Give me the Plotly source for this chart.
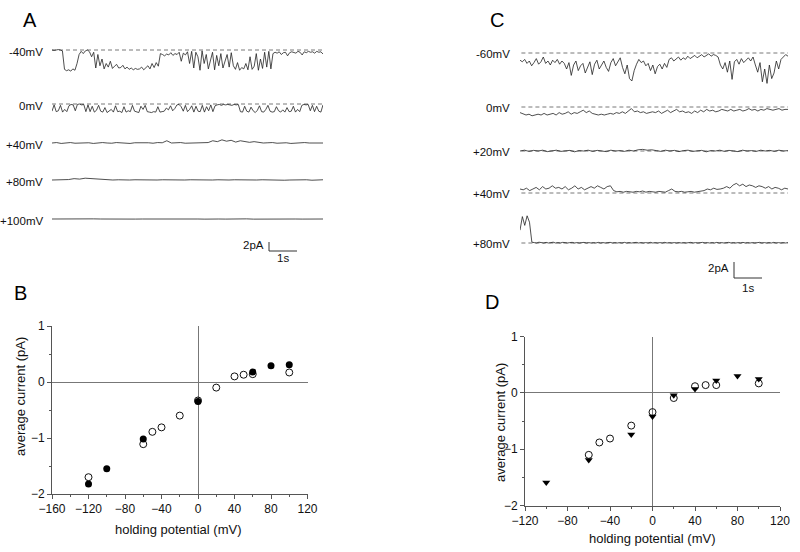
import numpy as np
import plotly.graph_objects as go

W, H = 800, 552

# ---------------- DATA ----------------
# Panel A single-channel traces (pA, baseline = 0, inward = negative)
A_labels = ["-40mV", "0mV", "+40mV", "+80mV", "+100mV"]
A_m40 = [0, -0.1, 0, 0.1, 0, -0.2,
         -4.3, -4.6, -4.4, -4.7, -4.2, -4.5,
         -3.0, -1.0, -0.3, -0.8, -0.2, 0, -0.4, -1.5, -0.5,
         -4.0, -1.0, -3.5, -2.0, -4.2, -3.0, -3.8, -2.5, -4.1, -3.6, -3.2, -4.0, -3.9, -3.4, -4.2, -3.8,
         -4.3, -4.0, -4.4, -4.1, -4.3, -4.2, -3.8, -4.4, -4.0, -3.5, -4.2, -3.0, -3.9, -2.8, -3.6,
         -0.8, -1.0, -1.3, -0.9, -1.1, -0.6, -1.2, -0.8, -1.0, -0.5, -2.5, -0.7, -1.1, -0.4, -3.0,
         -0.3, -4.0, -0.5, -1.5, -4.5, -0.2, -3.0, -1.0, -4.2, -2.0, -0.5, -4.4, -1.2, -3.5, -0.8, -4.0,
         -2.5, -1.0, -3.8, -0.6,
         -3.5, -4.3, -2.8, -4.5, -3.9, -4.2, -3.0, -4.4, -1.5, -4.3, -3.6, -0.8, -4.5, -2.0, -4.1, -0.5,
         -3.8, -0.3, -4.2,
         -0.8, -0.5, -0.7, -0.4, -1.0, -0.6, -0.5, -1.3, -0.6, -0.4, -0.5, -0.7, -0.3, -0.5, -1.1, -0.4,
         -0.6, -0.3, -0.5, -0.4, -0.7, -0.3, -0.5, -0.4, -0.9]
A_0 = [-1.6, -0.2, -1.7, -1.5, -0.3, -1.8, -1.2, -1.7, -0.4,
       -0.1, -0.2, -1.5, -0.1, 0, -0.2, -0.1, -1.7, -0.2,
       -1.7, -0.5, -1.8, -1.4, -0.3, -1.6, -1.8, -0.8, -1.9, -1.5, -1.2, -1.8, -0.4, -1.7, -1.6, -1.9,
       -0.6, -1.8, -1.5, -1.7, -0.3, -1.6,
       -1.8, -1.9, -0.5, -1.2, -0.3, -1.7,
       -1.8, -1.9, -1.7, -1.8, -0.6, -1.8, -1.7, -1.6, -0.9, -1.3, -0.4, -1.5, -1.0, -0.2,
       -0.1, -0.6, -1.6, -0.3, -1.7, -1.2, -0.4, -1.8, -0.5, -1.6, -1.7, -0.3, -1.8, -0.6, -1.5, -0.2,
       -1.7, -0.4,
       -0.2, -0.1, -0.3, -0.1, -0.2, -0.1, -0.2, -0.3, -0.1, -0.2, -0.1,
       -1.7, -1.8, -0.5, -1.6, -1.8, -0.7, -1.5, -1.9, -1.4, -0.4, -1.7, -1.8, -1.2, -0.3, -1.6, -1.8,
       -1.7, -0.6, -1.5, -1.8, -1.3, -1.8, -0.8, -1.7, -1.6, -0.5, -1.8, -1.2, -1.7, -0.3,
       -0.1, -0.2, -0.1,
       -1.5, -0.3, -1.7, -0.5, -1.6, -1.8, -0.2]
A_40 = [0, 0.1, -0.1, 0.05, 0.1, -0.05, 0, 0.1, 0.05, -0.1, 0, 0.1, 0, -0.05, 0.1, 0.05, 0, -0.1,
        0.05, 0.1, 0, 0.05, -0.05, 0.1, 0.05, 0.5, 0, 0.05, 0.1, -0.05, 0, 0.1, 0.05, 0.2, 0.1, 0.5,
        0.3, 0.7, 0.4, 0.6, 0.2, 0.5, 0.3, 0.15, 0.3, 0.1, 0, 0.05, 0.1, -0.05, 0, 0.05, -0.1, 0,
        0.05, 0.1, 0, -0.05, 0.05, 0]
A_80 = [0, 0.05, -0.05, 0.1, 0.3, 0.2, 0.4, 0.3, 0.15, 0.05, 0.1, 0, 0.05, -0.05, 0, 0.05, 0, 0.05,
        -0.05, 0, 0.05, 0, -0.05, 0.05, 0, 0.05, 0, -0.05, 0.05, 0, 0.05, -0.05, 0, 0.05, 0, 0.05,
        -0.05, 0, 0.05, 0, 0.05, 0, -0.05, 0, 0.05, 0, 0.05, -0.05, 0, 0.05]
A_100 = [0, 0.03, -0.03, 0.02, 0, -0.02, 0.03, 0, -0.03, 0.02, 0, 0.03, -0.02, 0, 0.02, -0.03, 0,
         0.03, 0, -0.02, 0.02, 0, -0.03, 0.03, 0, -0.02, 0.02, 0, 0.03, -0.03, 0, 0.02, -0.02, 0,
         0.03, 0, -0.02, 0.02, 0, 0]

# Panel C single-channel traces
C_labels = ["-60mV", "0mV", "+20mV", "+40mV", "+80mV"]
C_m60 = [-0.9, -1.1, -0.8, -1.3, -1.0, -1.6, -1.2, -0.7, -1.4, -1.1, -0.5, -1.3, -1.0, -1.5, -0.9,
         -1.2, -0.8, -1.4, -1.0, -1.3,
         -2.0, -1.2, -2.8, -1.5, -1.0, -2.2, -1.6, -1.3, -2.5, -1.8, -1.1, -2.7, -1.4, -0.9, -2.0,
         -1.5, -1.0, -1.8, -2.3, -1.2, -0.7, -1.6,
         -1.0, -0.6, -1.8, -2.6, -1.5, -3.2, -3.5, -2.2, -1.4, -0.8,
         -1.2, -1.0, -1.6, -1.3, -2.2, -1.5, -2.6, -1.7, -1.4, -2.0, -1.3, -1.8,
         -0.8, -0.6, -1.0, -0.7, -0.5, -0.9, -0.6, -0.8, -0.4, -0.7, -0.5, -0.3, -0.6, -0.4, -0.2,
         -0.5, -0.3, -0.1, -0.4, -0.2, -0.3,
         -0.5, -1.5, -2.0, -1.2, -2.4, -1.0, -3.3, -1.1, -0.8, -1.4, -0.7, -1.2, -0.9, -0.6, -1.0, -0.5,
         -1.5, -2.4, -1.2, -3.6, -2.0, -3.8, -1.5, -3.2, -2.5, -1.0, -2.0, -0.8, -0.5, -0.2, -0.4]
C_0 = [-0.7, -0.9, -1.0, -0.9, -1.1, -1.0, -0.9, -1.0, -0.8, -1.0, -0.9, -0.8, -1.0, -0.7, -0.9,
       -0.8, -0.6, -0.9, -0.7, -0.8, -0.6, -0.4, -0.7, -0.5, -0.8, -0.9, -1.0, -0.9, -1.0, -0.9,
       -0.8, -0.9, -0.7, -0.8, -0.6, -0.8, -0.5, -0.2, -0.6, -0.5, -0.7, -0.6, -0.8, -0.7, -0.6,
       -0.7, -0.5, -0.8, -0.6, -0.4, -0.7, -0.5, -0.3, -0.6, -0.5, -0.7, -0.6, -0.8, -0.5, -0.7,
       -0.4, -0.6, -0.3, -0.5, -0.4, -0.6, -0.5, -0.3, -0.4, -0.5, -0.3, -0.5, -0.4, -0.3, -0.5,
       -0.4, -0.2, -0.4, -0.3, -0.5, -0.3, -0.4, -0.2, -0.3, -0.4, -0.3, -0.2, -0.4, -0.3, -0.3]
C_20 = [0, 0.1, -0.05, 0.08, 0, 0.1, -0.08, 0.05, 0.1, -0.05, 0, 0.08, -0.1, 0.05, 0, 0.1, -0.05,
        0.08, 0, -0.08, 0.1, 0, 0.05, -0.05, 0.1, 0, 0.15, 0.2, 0.1, 0.15, 0.05, -0.05, 0.1, 0,
        0.08, -0.08, 0.05, 0.1, -0.05, 0, 0.08, -0.1, 0.05, 0, 0.1, -0.05, 0.08, 0, -0.08, 0.1,
        0, 0.05, -0.05, 0.1, 0, 0.08, -0.05, 0.1, 0, 0.05]
C_40 = [0.5, 0.4, 0.6, 0.3, 0.5, 0.7, 0.4, 0.8, 0.5, 0.6, 0.9, 0.6, 0.7, 0.5, 0.8, 0.4, 0.6, 0.9,
        0.5, 0.7, 0.4, 0.6, 0.8, 0.6, 0.9, 0.7, 0.5, 0.8, 0.9, 0.3,
        0.15, 0.2, 0.1, 0.2, 0.15, 0.1, 0.2, 0.15, 0.25, 0.1, 0.2, 0.15, 0.1, 0.2, 0.15, 0.1, 0.3,
        0.5, 0.2, 0.15, 0.2, 0.1, 0.15, 0.2, 0.1, 0.15, 0.2, 0.3, 0.5, 0.4, 0.6, 0.45, 0.5, 0.6,
        0.8, 0.6, 1.0, 1.2, 0.9, 1.1, 0.8, 1.0, 0.9, 0.7, 0.9, 0.8, 0.6, 0.8, 0.5, 0.7, 0.6, 0.4,
        0.6, 0.5]
C_80 = [1.6, 3.3, 2.2, 3.4, 2.6, 0.1, 0.05, 0, 0.1, 0.05, 0, 0.08, 0, 0.05, 0.1, 0, 0.05, 0, 0.08,
        0.05, 0, 0.05, 0.08, 0, 0.05, 0, 0.05, 0.08, 0, 0.05, 0, 0.05, 0, 0.08, 0, 0.05, 0, 0.05,
        0.08, 0, 0.05, 0, 0.05, 0, 0.08, 0, 0.05, 0, 0.05, 0.08, 0, 0.05, 0, 0.05, 0, 0.08, 0,
        0.05, 0, 0.05, 0, 0.08, 0, 0.05, 0, 0.05, 0, 0.05, 0, 0.05, 0, 0.05, 0.08, 0, 0.05, 0,
        0.05, 0.08, 0, 0.05, 0, 0.05, 0, 0.08, 0, 0.05, 0, 0.05, 0.08, 0, 0.05, 0, 0.05, 0, 0.08,
        0, 0.05, 0, 0.05, 0, 0.05, 0.08, 0, 0.05, 0, 0.05, 0, 0.08, 0, 0.05, 0, 0.05, 0, 0.05]

# Panel B: I-V relation (holding potential mV, average current pA)
B_open_x = [-120, -60, -50, -40, -20, 0, 20, 40, 50, 60, 100]
B_open_y = [-1.70, -1.11, -0.89, -0.81, -0.60, -0.33, -0.10, 0.10, 0.13, 0.14, 0.17]
B_fill_x = [-120, -100, -60, 0, 60, 80, 100]
B_fill_y = [-1.82, -1.55, -1.02, -0.35, 0.18, 0.29, 0.31]

# Panel D
D_open_x = [-60, -50, -40, -20, 0, 20, 40, 50, 60, 100]
D_open_y = [-1.10, -0.88, -0.81, -0.58, -0.34, -0.09, 0.12, 0.14, 0.14, 0.17]
D_tri_x = [-100, -60, -20, 0, 20, 40, 60, 80, 100]
D_tri_y = [-1.59, -1.19, -0.74, -0.42, -0.04, 0.07, 0.22, 0.30, 0.25]

B_xticks = [-160, -120, -80, -40, 0, 40, 80, 120]
D_xticks = [-120, -80, -40, 0, 40, 80, 120]
yticks = [-2, -1, 0, 1]

# ---------------- LAYOUT HELPERS ----------------
def px(x):
    return x / W


def py(y):
    return 1 - y / H


FONT = "Liberation Sans, Arial, Helvetica, sans-serif"
TRACE_COL = "#222222"
LAB = 11.5

fig = go.Figure()

# ---- Panel A traces ----
A_X0, A_X1, A_Y0, A_Y1 = 52, 323, 30, 265
A_PXS, A_PXPA = 28.0, 4.5
A_T = (A_X1 - A_X0) / A_PXS
A_base = [50, 104, 143, 180, 219]
A_dashed = [True, True, False, False, False]
A_series = [A_m40, A_0, A_40, A_80, A_100]


def a_off(b):
    return -(b - A_Y0) / A_PXPA


for vals, b, dsh, lab in zip(A_series, A_base, A_dashed, A_labels):
    off = a_off(b)
    if dsh:
        fig.add_trace(go.Scatter(x=[0, A_T], y=[off, off], mode="lines", xaxis="x", yaxis="y",
                                 line=dict(color="#555", width=0.8, dash="4px,3px"),
                                 hoverinfo="skip", showlegend=False))
    t = np.linspace(0, A_T, len(vals))
    fig.add_trace(go.Scatter(x=t, y=np.array(vals) + off, mode="lines", xaxis="x", yaxis="y",
                             line=dict(color=TRACE_COL, width=0.8), showlegend=False, name=lab))
    fig.add_annotation(x=px(45), y=py(b + 2), xref="paper", yref="paper", text=lab,
                       showarrow=False, xanchor="right", yanchor="middle",
                       font=dict(family=FONT, size=LAB, color="#111"))

# scale bar A (2 pA, 1 s)
sbx = (269 - A_X0) / A_PXS
sby = a_off(251)
fig.add_trace(go.Scatter(x=[sbx, sbx, sbx + 1], y=[sby + 2, sby, sby], mode="lines",
                         xaxis="x", yaxis="y", line=dict(color="#333", width=1),
                         hoverinfo="skip", showlegend=False))
fig.add_annotation(x=px(266), y=py(245), xref="paper", yref="paper", text="2pA",
                   showarrow=False, xanchor="right", font=dict(family=FONT, size=LAB, color="#111"))
fig.add_annotation(x=px(283), y=py(258), xref="paper", yref="paper", text="1s",
                   showarrow=False, xanchor="center", font=dict(family=FONT, size=LAB, color="#111"))

# ---- Panel C traces ----
C_X0, C_X1, C_Y0, C_Y1 = 520, 788, 30, 300
C_PXS, C_PXPA = 28.0, 8.0
C_T = (C_X1 - C_X0) / C_PXS
C_base = [53, 107, 151, 193, 243]
C_series = [C_m60, C_0, C_20, C_40, C_80]


def c_off(b):
    return -(b - C_Y0) / C_PXPA


for vals, b, lab in zip(C_series, C_base, C_labels):
    off = c_off(b)
    fig.add_trace(go.Scatter(x=[-0.2, C_T], y=[off, off], mode="lines", xaxis="x2", yaxis="y2",
                             line=dict(color="#555", width=0.8, dash="4px,3px"),
                             hoverinfo="skip", showlegend=False))
    t = np.linspace(0, C_T, len(vals))
    fig.add_trace(go.Scatter(x=t, y=np.array(vals) + off, mode="lines", xaxis="x2", yaxis="y2",
                             line=dict(color=TRACE_COL, width=0.8), showlegend=False, name=lab))
    fig.add_annotation(x=px(512), y=py(b + 1), xref="paper", yref="paper", text=lab,
                       showarrow=False, xanchor="right", yanchor="middle",
                       font=dict(family=FONT, size=LAB, color="#111"))

sbx2 = (734 - C_X0) / C_PXS
sby2 = c_off(278)
fig.add_trace(go.Scatter(x=[sbx2, sbx2, sbx2 + 1], y=[sby2 + 2, sby2, sby2], mode="lines",
                         xaxis="x2", yaxis="y2", line=dict(color="#333", width=1),
                         hoverinfo="skip", showlegend=False))
fig.add_annotation(x=px(731), y=py(268), xref="paper", yref="paper", text="2pA",
                   showarrow=False, xanchor="right", font=dict(family=FONT, size=LAB, color="#111"))
fig.add_annotation(x=px(748), y=py(288), xref="paper", yref="paper", text="1s",
                   showarrow=False, xanchor="center", font=dict(family=FONT, size=LAB, color="#111"))

# ---- Panel B scatter ----
fig.add_trace(go.Scatter(x=B_open_x, y=B_open_y, mode="markers", xaxis="x3", yaxis="y3",
                         marker=dict(symbol="circle-open", size=7, color="#111", line=dict(width=1)),
                         showlegend=False))
fig.add_trace(go.Scatter(x=B_fill_x, y=B_fill_y, mode="markers", xaxis="x3", yaxis="y3",
                         marker=dict(symbol="circle", size=7, color="#000"), showlegend=False))

# ---- Panel D scatter ----
fig.add_trace(go.Scatter(x=D_open_x, y=D_open_y, mode="markers", xaxis="x4", yaxis="y4",
                         marker=dict(symbol="circle-open", size=7, color="#111", line=dict(width=1)),
                         showlegend=False))
fig.add_trace(go.Scatter(x=D_tri_x, y=D_tri_y, mode="markers", xaxis="x4", yaxis="y4",
                         marker=dict(symbol="triangle-down", size=7, color="#000"), showlegend=False))

hidden = dict(visible=False, fixedrange=True, automargin=False)
axis_common = dict(showgrid=False, showline=True, linecolor="#555", linewidth=1,
                   ticks="outside", ticklen=4, tickcolor="#555", zeroline=True,
                   zerolinecolor="#777", zerolinewidth=1, automargin=False,
                   tickfont=dict(family=FONT, size=12, color="#111"))

fig.update_layout(
    width=W, height=H, autosize=False, margin=dict(l=0, r=0, t=0, b=0, pad=0),
    paper_bgcolor="white", plot_bgcolor="white",
    xaxis=dict(domain=[px(A_X0), px(A_X1)], range=[0, A_T], anchor="y", **hidden),
    yaxis=dict(domain=[py(A_Y1), py(A_Y0)], range=[a_off(A_Y1), 0], anchor="x", **hidden),
    xaxis2=dict(domain=[px(C_X0), px(C_X1)], range=[0, C_T], anchor="y2", **hidden),
    yaxis2=dict(domain=[py(C_Y1), py(C_Y0)], range=[c_off(C_Y1), 0], anchor="x2", **hidden),
    xaxis3=dict(domain=[px(52), px(307.5)], range=[-160, 120], anchor="y3",
                tickvals=B_xticks, minor=dict(dtick=20, ticklen=2, ticks="outside", tickcolor="#555"),
                **axis_common),
    yaxis3=dict(domain=[py(494), py(326)], range=[-2, 1], anchor="x3", tickvals=yticks,
                minor=dict(dtick=0.5, ticklen=2, ticks="outside", tickcolor="#555"), **axis_common),
    xaxis4=dict(domain=[px(525), px(780)], range=[-120, 120], anchor="y4",
                tickvals=D_xticks, minor=dict(dtick=20, ticklen=2, ticks="outside", tickcolor="#555"),
                **axis_common),
    yaxis4=dict(domain=[py(505.5), py(336.7)], range=[-2, 1], anchor="x4", tickvals=yticks,
                minor=dict(dtick=0.5, ticklen=2, ticks="outside", tickcolor="#555"), **axis_common),
)

# Axis titles
for (x, y, txt, ang) in [(20, 397, "average current (pA)", -90),
                         (178, 529, "holding potential (mV)", 0),
                         (500, 423, "average current (pA)", -90),
                         (652, 538, "holding potential (mV)", 0)]:
    fig.add_annotation(x=px(x), y=py(y), xref="paper", yref="paper", text=txt, textangle=ang,
                       showarrow=False, xanchor="center", yanchor="middle",
                       font=dict(family=FONT, size=13, color="#111"))

# Panel letters
for (x, y, txt) in [(30, 20, "A"), (20, 293, "B"), (497, 20, "C"), (492, 302, "D")]:
    fig.add_annotation(x=px(x), y=py(y), xref="paper", yref="paper", text=txt,
                       showarrow=False, xanchor="center", yanchor="middle",
                       font=dict(family=FONT, size=20, color="#000"))

fig.write_html("out.html", config={"responsive": False, "displayModeBar": False},
               post_script="document.body.style.margin='0';document.body.style.padding='0';"
                           "document.body.style.overflow='hidden';")
